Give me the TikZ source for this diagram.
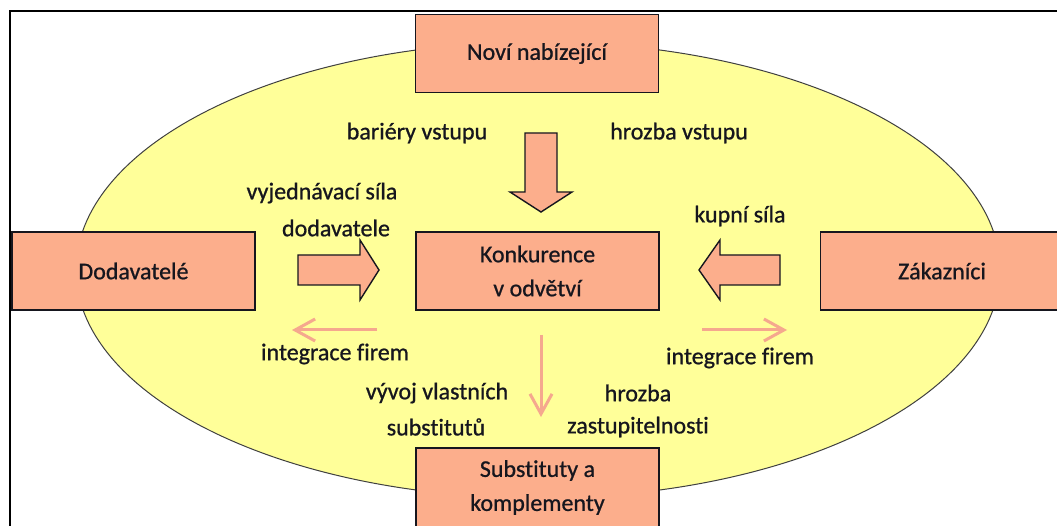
\documentclass[tikz,border=0pt]{standalone}
\usepackage{fontspec}
\setmainfont{Carlito}[Ligatures=NoCommon, FakeBold=0.8]
\usetikzlibrary{arrows.meta}
\definecolor{fieldyellow}{RGB}{255,255,153}
\definecolor{boxsalmon}{RGB}{252,174,140}
\definecolor{thinsalmon}{RGB}{245,168,142}
\definecolor{inkdark}{RGB}{22,22,30}
\tikzset{
  force/.style={draw=inkdark, line width=1.4pt, fill=boxsalmon, rectangle,
    minimum width=243pt, minimum height=78pt, inner sep=0pt,
    font=\fontsize{24pt}{34pt}\selectfont, text=inkdark, align=center},
  label/.style={font=\fontsize{24pt}{34pt}\selectfont, text=inkdark, inner sep=0pt, align=center},
  blockarrow/.style={draw=inkdark, line width=1.4pt, fill=boxsalmon, line join=miter},
  thinarrow/.style={draw=thinsalmon, line width=3pt,
    -{Straight Barb[length=20pt,width=22pt,line width=3pt]}}
}
\begin{document}
\begin{tikzpicture}[x=1pt,y=-1pt]
  \useasboundingbox (0,0) rectangle (1057,526);
  \clip (0,0) rectangle (1057,526);
  % outer frame, running past the right and bottom edges
  \draw[line width=2.5pt] (10,11) rectangle (1100,600);
  % the industry field
  \draw[fill=fieldyellow, draw=black!75, line width=1pt] (538,270) ellipse [x radius=462, y radius=228];

  % the five forces
  \node[force] (novi) at (537,53.5) {Noví nabízející};
  \node[force] (dod) at (133.5,271) {Dodavatelé};
  \node[force] (konk) at (537.5,271) {Konkurence\\v odvětví};
  \node[force] (zak) at (942,271) {Zákazníci};
  \node[force, minimum height=79pt] (subst) at (537.5,487.5) {Substituty a\\komplementy};

  % block arrows pointing at the rivalry box
  \draw[blockarrow] (525,133) -- (557,133) -- (557,192) -- (572,192) -- (541,212)
    -- (510,192) -- (525,192) -- cycle;
  \draw[blockarrow] (298,255) -- (360,255) -- (360,240) -- (379,270) -- (360,300)
    -- (360,285) -- (298,285) -- cycle;
  \draw[blockarrow] (780,255) -- (720,255) -- (720,240) -- (699,270) -- (720,300)
    -- (720,285) -- (780,285) -- cycle;

  % thin arrows
  \coordinate (intL0) at (377,330);
  \coordinate (intL1) at (292,330);
  \coordinate (intR0) at (702,330);
  \coordinate (intR1) at (787,330);
  \coordinate (subA0) at (541,335);
  \coordinate (subA1) at (541,417);
  \draw[thinarrow] (intL0) -- (intL1);
  \draw[thinarrow] (intR0) -- (intR1);
  \draw[thinarrow] (subA0) -- (subA1);

  % labels
  \node[label] (bar) at (417,133) {bariéry vstupu};
  \node[label] (hvs) at (679,133) {hrozba vstupu};
  \node[label] (vyj) at (322,193) {vyjednávací síla};
  \node[label] (dodl) at (336,228) {dodavatele};
  \node[label] (kup) at (740,216) {kupní síla};
  \node[label] (ifL) at (335,354) {integrace firem};
  \node[label] (ifR) at (740,358) {integrace firem};
  \node[label] (vyv) at (437,393) {vývoj vlastních};
  \node[label] (sub) at (436,427) {substitutů};
  \node[label] (hro) at (638,393) {hrozba};
  \node[label] (zas) at (638,427) {zastupitelnosti};
\end{tikzpicture}
\end{document}
